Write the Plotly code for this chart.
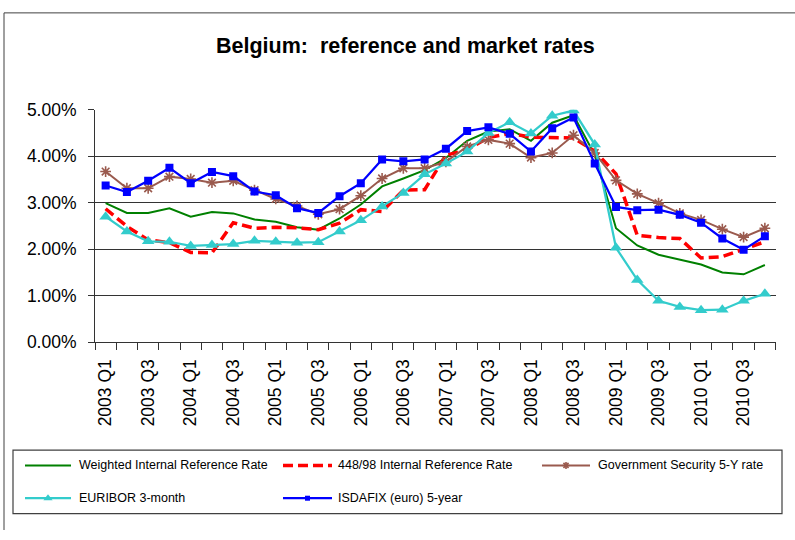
import plotly.graph_objects as go

# ---------------------------------------------------------------- data
quarters = [
    "2003 Q1", "2003 Q2", "2003 Q3", "2003 Q4",
    "2004 Q1", "2004 Q2", "2004 Q3", "2004 Q4",
    "2005 Q1", "2005 Q2", "2005 Q3", "2005 Q4",
    "2006 Q1", "2006 Q2", "2006 Q3", "2006 Q4",
    "2007 Q1", "2007 Q2", "2007 Q3", "2007 Q4",
    "2008 Q1", "2008 Q2", "2008 Q3", "2008 Q4",
    "2009 Q1", "2009 Q2", "2009 Q3", "2009 Q4",
    "2010 Q1", "2010 Q2", "2010 Q3", "2010 Q4",
]

# rates in percent
weighted_internal = [
    2.99, 2.78, 2.78, 2.88, 2.70, 2.80, 2.77, 2.64,
    2.59, 2.47, 2.42, 2.66, 2.96, 3.35, 3.52, 3.70,
    3.96, 4.33, 4.53, 4.58, 4.33, 4.72, 4.88, 4.03,
    2.45, 2.08, 1.88, 1.78, 1.67, 1.50, 1.46, 1.66,
]
internal_448_98 = [
    2.87, 2.49, 2.20, 2.14, 1.93, 1.92, 2.57, 2.45,
    2.47, 2.46, 2.42, 2.56, 2.85, 2.81, 3.27, 3.28,
    4.02, 4.14, 4.40, 4.49, 4.41, 4.40, 4.39, 4.11,
    3.62, 2.30, 2.25, 2.23, 1.81, 1.84, 2.00, 2.16,
]
gov_security_5y = [
    3.67, 3.31, 3.31, 3.56, 3.51, 3.43, 3.47, 3.27,
    3.08, 2.93, 2.75, 2.86, 3.15, 3.52, 3.74, 3.74,
    3.88, 4.21, 4.35, 4.27, 3.97, 4.07, 4.45, 4.07,
    3.48, 3.19, 2.99, 2.77, 2.63, 2.43, 2.26, 2.45,
]
euribor_3m = [
    2.70, 2.38, 2.17, 2.16, 2.07, 2.09, 2.11, 2.18,
    2.16, 2.14, 2.15, 2.38, 2.62, 2.92, 3.21, 3.61,
    3.84, 4.10, 4.50, 4.73, 4.49, 4.87, 4.98, 4.25,
    2.03, 1.34, 0.89, 0.76, 0.69, 0.70, 0.89, 1.04,
]
isdafix_5y = [
    3.37, 3.23, 3.47, 3.75, 3.42, 3.66, 3.57, 3.24,
    3.16, 2.88, 2.78, 3.14, 3.42, 3.93, 3.89, 3.93,
    4.16, 4.54, 4.62, 4.48, 4.10, 4.60, 4.83, 3.84,
    2.91, 2.84, 2.85, 2.74, 2.57, 2.23, 1.99, 2.28,
]

y_ticks = [0, 1, 2, 3, 4, 5]
y_tick_text = [f"{v:.2f}%" for v in y_ticks]

# ---------------------------------------------------------------- styles
FONT = "Arial, 'Liberation Sans', sans-serif"
W, H = 795, 540
BROWN = "#9A5A4E"

series = [
    dict(name="Weighted Internal Reference Rate", y=weighted_internal,
         line=dict(color="#008000", width=2), marker=None),
    dict(name="448/98 Internal Reference Rate", y=internal_448_98,
         line=dict(color="#FF0000", width=3.5, dash="10px,5px"), marker=None),
    dict(name="Government Security 5-Y rate", y=gov_security_5y,
         line=dict(color=BROWN, width=2),
         marker=dict(symbol="asterisk-open", size=9, color=BROWN,
                     line=dict(color=BROWN, width=1.6))),
    dict(name="EURIBOR 3-month", y=euribor_3m,
         line=dict(color="#33CCCC", width=2.25),
         marker=dict(symbol="triangle-up", size=11, color="#33CCCC")),
    dict(name="ISDAFIX (euro) 5-year", y=isdafix_5y,
         line=dict(color="#0000FF", width=2.25),
         marker=dict(symbol="square", size=8, color="#0000FF")),
]

idx = list(range(len(quarters)))

fig = go.Figure()
for s in series:
    kw = dict(x=idx, y=s["y"], name=s["name"], customdata=quarters,
              hovertemplate="%{customdata}: %{y:.2f}%<extra>" + s["name"] + "</extra>",
              line=s["line"], showlegend=False, xaxis="x", yaxis="y")
    if s["marker"] is None:
        kw["mode"] = "lines"
    else:
        kw["mode"] = "lines+markers"
        kw["marker"] = s["marker"]
    fig.add_trace(go.Scatter(**kw))

# ---------------------------------------------------------------- legend (pixel overlay)
rows = [473, 507]
cols = [(25, 71, 77), (283, 332, 336), (542, 590, 596)]
slots = [(0, 0), (0, 1), (0, 2), (1, 0), (1, 1)]

annotations = []
for s, (r, c) in zip(series, slots):
    x0, x1, xt = cols[c]
    yy = rows[r]
    fig.add_trace(go.Scatter(x=[x0, x1], y=[yy, yy], mode="lines",
                             line=s["line"], showlegend=False, hoverinfo="skip",
                             xaxis="x2", yaxis="y2"))
    if s["marker"] is not None:
        m = dict(s["marker"])
        m["size"] = max(5, m["size"] - 3)
        fig.add_trace(go.Scatter(x=[(x0 + x1) / 2], y=[yy], mode="markers",
                                 marker=m, showlegend=False, hoverinfo="skip",
                                 xaxis="x2", yaxis="y2"))
    annotations.append(dict(x=xt, y=yy, xref="x2", yref="y2", text=s["name"],
                            showarrow=False, xanchor="left", yanchor="middle",
                            font=dict(family=FONT, size=12.5, color="#000000")))

annotations.append(dict(x=405, y=37, xref="x2", yref="y2",
                        text="<b>Belgium:  reference and market rates</b>",
                        showarrow=False, xanchor="center", yanchor="middle",
                        font=dict(family=FONT, size=21.5, color="#000000")))

shapes = [
    # outer chart frame
    dict(type="rect", xref="x2", yref="y2", x0=4, y0=3, x1=820, y1=560,
         line=dict(color="#404040", width=1), layer="below"),
    # legend frame
    dict(type="rect", xref="x2", yref="y2", x0=13, y0=457, x1=782, y1=523,
         line=dict(color="#404040", width=1.2), layer="below"),
]

# plot rectangle in pixels
PL, PR, PT, PB = 95, 775.5, 103.5, 345

fig.update_layout(
    width=W, height=H,
    margin=dict(l=0, r=0, t=0, b=0),
    paper_bgcolor="#FFFFFF",
    plot_bgcolor="rgba(0,0,0,0)",
    showlegend=False,
    font=dict(family=FONT, color="#000000"),
    annotations=annotations,
    shapes=shapes,
    xaxis=dict(
        domain=[PL / W, PR / W],
        range=[-0.5, len(quarters) - 0.5],
        tickmode="array",
        tickvals=idx[::2],
        ticktext=quarters[::2],
        tickangle=-90,
        ticks="outside", ticklen=9, tickcolor="rgba(0,0,0,0)",
        minor=dict(tick0=-0.5, dtick=1, ticks="outside", ticklen=7,
                   tickcolor="#333333", tickwidth=1, showgrid=False),
        tickfont=dict(family=FONT, size=17.5, color="#000000"),
        showline=True, linecolor="#333333", linewidth=1,
        showgrid=False, zeroline=False, fixedrange=True,
        anchor="y",
    ),
    yaxis=dict(
        domain=[(H - PB) / H, (H - PT) / H],
        range=[0, 5],
        tickmode="array",
        tickvals=y_ticks,
        ticktext=y_tick_text,
        ticks="outside", ticklen=6, tickcolor="#333333",
        ticklabelstandoff=8,
        tickfont=dict(family=FONT, size=17.5, color="#000000"),
        showline=True, linecolor="#333333", linewidth=1,
        showgrid=True, gridcolor="#333333", gridwidth=1,
        zeroline=False, fixedrange=True,
        anchor="x",
    ),
    xaxis2=dict(domain=[0, 1], range=[0, W], visible=False,
                fixedrange=True, anchor="y2"),
    yaxis2=dict(domain=[0, 1], range=[H, 0], visible=False,
                fixedrange=True, anchor="x2"),
)

fig.write_html("out.html")
